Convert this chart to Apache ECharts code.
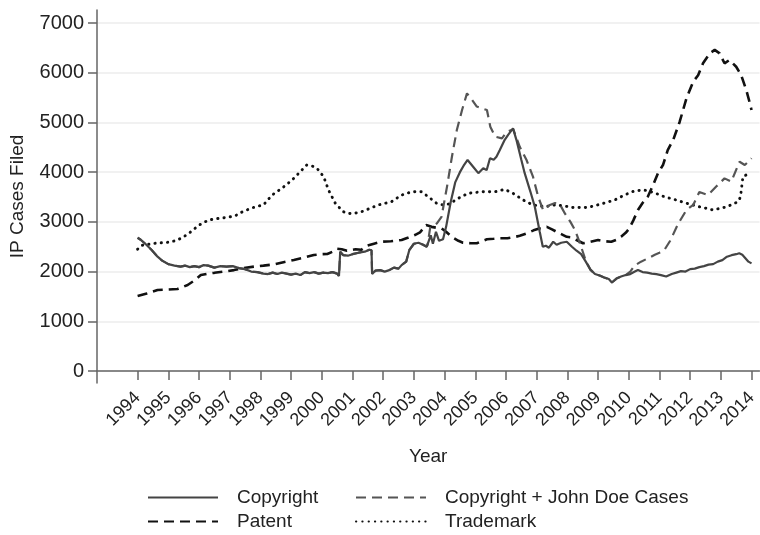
<!DOCTYPE html>
<html>
<head>
<meta charset="utf-8">
<script src="https://cdn.jsdelivr.net/npm/echarts@6/dist/echarts.min.js"></script>
<style>html,body{margin:0;padding:0;background:#fff}#c{width:760px;height:535px}</style>
</head>
<body>
<div id="c"></div>
<script>
const yearTicks = [1994,1995,1996,1997,1998,1999,2000,2001,2002,2003,2004,2005,2006,2007,2008,2009,2010,2011,2012,2013,2014];
const valueTicks = [0,1000,2000,3000,4000,5000,6000,7000];
const seriesNames = ['Copyright','Copyright + John Doe Cases','Patent','Trademark'];

const copyright = [
[1994.00,2680],[1994.10,2640],[1994.25,2560],[1994.45,2440],[1994.65,2300],[1994.80,2220],[1995.00,2150],[1995.20,2120],
[1995.40,2100],[1995.55,2120],[1995.70,2090],[1995.85,2110],[1996.00,2090],[1996.15,2130],[1996.30,2120],[1996.50,2080],
[1996.70,2110],[1996.90,2100],[1997.10,2110],[1997.30,2070],[1997.50,2050],[1997.70,2000],[1997.90,1990],[1998.10,1960],
[1998.25,1950],[1998.40,1980],[1998.55,1950],[1998.70,1980],[1998.85,1960],[1999.00,1940],[1999.15,1960],[1999.30,1930],
[1999.45,1990],[1999.60,1970],[1999.75,1990],[1999.90,1960],[2000.05,1980],[2000.20,1970],[2000.35,1990],[2000.50,1960],
[2000.56,1910],[2000.60,2400],[2000.70,2330],[2000.85,2320],[2001.00,2350],[2001.20,2380],[2001.40,2400],[2001.55,2440],
[2001.62,2430],[2001.64,1950],[2001.75,2020],[2001.90,2030],[2002.05,2000],[2002.20,2030],[2002.35,2080],[2002.50,2060],
[2002.60,2130],[2002.75,2200],[2002.85,2430],[2003.00,2560],[2003.15,2580],[2003.30,2540],[2003.42,2500],[2003.55,2730],
[2003.62,2560],[2003.72,2800],[2003.82,2620],[2003.95,2650],[2004.05,2900],[2004.20,3400],[2004.35,3800],[2004.50,4000],
[2004.62,4130],[2004.75,4245],[2004.93,4110],[2005.10,3980],[2005.26,4080],[2005.37,4040],[2005.48,4280],[2005.60,4250],
[2005.69,4310],[2005.80,4445],[2005.96,4650],[2006.07,4750],[2006.23,4880],[2006.34,4650],[2006.50,4250],[2006.61,3980],
[2006.80,3600],[2006.94,3305],[2007.10,2800],[2007.20,2500],[2007.30,2520],[2007.40,2480],[2007.54,2600],[2007.65,2540],
[2007.80,2580],[2007.98,2600],[2008.15,2500],[2008.30,2420],[2008.45,2350],[2008.60,2200],[2008.75,2040],[2008.90,1950],
[2009.05,1920],[2009.20,1880],[2009.35,1850],[2009.45,1780],[2009.60,1860],[2009.75,1900],[2009.90,1930],[2010.05,1950],
[2010.20,2000],[2010.30,2030],[2010.45,1990],[2010.60,1980],[2010.75,1960],[2010.90,1950],[2011.05,1930],[2011.22,1900],
[2011.40,1950],[2011.55,1980],[2011.70,2010],[2011.85,2000],[2012.00,2050],[2012.15,2060],[2012.30,2090],[2012.45,2110],
[2012.60,2140],[2012.75,2150],[2012.90,2200],[2013.05,2230],[2013.20,2300],[2013.35,2330],[2013.50,2350],[2013.60,2370],
[2013.70,2340],[2013.80,2270],[2013.90,2200],[2014.00,2165]
];

const johnDoeLate = [
[2003.45,2550],[2003.53,2880],[2003.75,2970],[2003.90,3100],[2004.08,3710],[2004.24,4310],[2004.40,4850],[2004.57,5250],
[2004.73,5585],[2004.90,5450],[2005.05,5320],[2005.20,5285],[2005.38,5250],[2005.49,4915],[2005.65,4715],[2005.87,4680],
[2006.03,4815],[2006.24,4860],[2006.45,4510],[2006.67,4245],[2006.88,3910],[2007.05,3505],[2007.21,3240],[2007.43,3340],
[2007.60,3380],[2007.75,3360],[2007.92,3170],[2008.10,3000],[2008.25,2835],[2008.41,2570],[2008.60,2220]
];
const johnDoeRecent = [
[2010.05,2000],[2010.19,2120],[2010.40,2200],[2010.62,2265],[2010.85,2340],[2011.00,2380],[2011.16,2435],[2011.35,2620],
[2011.60,2950],[2011.88,3240],[2012.10,3340],[2012.30,3600],[2012.58,3540],[2012.85,3710],[2013.12,3875],[2013.34,3810],
[2013.61,4210],[2013.78,4145],[2013.94,4240],[2014.00,4280]
];
// Copyright + John Doe equals Copyright where there are no John Doe cases
const copyrightDoe = copyright.filter(p => p[0] < 2003.45)
  .concat(johnDoeLate)
  .concat(copyright.filter(p => p[0] > 2008.65 && p[0] < 2010.0))
  .concat(johnDoeRecent);

const patent = [
[1994.00,1510],[1994.30,1560],[1994.65,1630],[1995.00,1640],[1995.30,1650],[1995.63,1730],[1995.85,1820],[1996.06,1930],
[1996.30,1960],[1996.50,1975],[1996.80,2000],[1997.14,2030],[1997.45,2070],[1997.79,2100],[1998.10,2120],[1998.44,2145],
[1998.75,2190],[1999.09,2235],[1999.40,2280],[1999.74,2335],[2000.00,2350],[2000.18,2355],[2000.35,2400],[2000.50,2460],
[2000.65,2450],[2000.82,2420],[2001.10,2450],[2001.29,2440],[2001.48,2520],[2001.70,2560],[2001.94,2600],[2002.25,2610],
[2002.60,2635],[2002.80,2680],[2003.03,2735],[2003.20,2790],[2003.40,2935],[2003.58,2900],[2003.75,2880],[2003.90,2870],
[2004.05,2800],[2004.23,2700],[2004.45,2620],[2004.60,2580],[2004.85,2570],[2005.05,2570],[2005.25,2620],[2005.38,2650],
[2005.60,2660],[2005.81,2670],[2006.05,2670],[2006.24,2690],[2006.45,2720],[2006.68,2770],[2006.90,2830],[2007.11,2870],
[2007.33,2900],[2007.50,2850],[2007.65,2800],[2007.85,2740],[2007.98,2700],[2008.13,2690],[2008.30,2635],[2008.51,2570],
[2008.75,2600],[2009.00,2635],[2009.20,2610],[2009.43,2600],[2009.60,2640],[2009.75,2700],[2009.90,2780],[2010.02,2870],
[2010.15,3030],[2010.30,3240],[2010.45,3380],[2010.62,3505],[2010.80,3750],[2010.95,3975],[2011.12,4150],[2011.27,4445],
[2011.45,4650],[2011.66,5015],[2011.88,5485],[2012.10,5820],[2012.26,5950],[2012.42,6190],[2012.64,6390],[2012.80,6460],
[2012.96,6390],[2013.12,6190],[2013.28,6255],[2013.50,6120],[2013.66,5955],[2013.83,5650],[2013.94,5400],[2014.00,5250]
];

const trademark = [
[1994.00,2450],[1994.15,2530],[1994.58,2570],[1995.00,2590],[1995.23,2620],[1995.45,2680],[1995.67,2770],[1995.85,2860],
[1996.00,2935],[1996.32,3040],[1996.64,3070],[1996.90,3090],[1997.18,3120],[1997.35,3185],[1997.60,3250],[1997.84,3305],
[1998.10,3340],[1998.38,3540],[1998.70,3675],[1999.03,3840],[1999.30,4010],[1999.51,4145],[1999.70,4120],[1999.84,4080],
[2000.06,3910],[2000.22,3640],[2000.44,3375],[2000.70,3205],[2000.86,3170],[2001.05,3170],[2001.30,3205],[2001.60,3280],
[2001.84,3340],[2002.27,3405],[2002.60,3540],[2002.93,3605],[2003.25,3605],[2003.47,3505],[2003.74,3375],[2003.95,3340],
[2004.15,3360],[2004.45,3475],[2004.77,3575],[2005.20,3605],[2005.64,3605],[2005.96,3655],[2006.23,3575],[2006.56,3440],
[2006.88,3340],[2007.26,3305],[2007.59,3340],[2007.92,3320],[2008.13,3290],[2008.67,3290],[2009.10,3360],[2009.54,3440],
[2009.86,3540],[2010.19,3625],[2010.51,3640],[2010.84,3585],[2011.16,3505],[2011.49,3450],[2011.88,3375],[2012.30,3305],
[2012.74,3240],[2013.18,3300],[2013.56,3405],[2013.64,3500],[2013.72,3910],[2013.83,3945],[2014.00,3975]
];

const FONT = "'Liberation Sans', Arial, Helvetica, sans-serif";
const chart = echarts.init(document.getElementById('c'), null, {renderer: 'canvas'});
function legendAt(name, left, top) {
  return {
    data: [name], left: left, top: top, padding: 0,
    orient: 'horizontal', itemWidth: 70, itemHeight: 14, selectedMode: false,
    itemStyle: {color: 'rgba(0,0,0,0)', borderWidth: 0, opacity: 0},
    textStyle: {fontFamily: FONT, fontSize: 19, color: '#222', padding: [0, 0, 0, 14]}
  };
}
chart.setOption({
  animation: false,
  backgroundColor: '#fff',
  grid: {left: 96, right: 0, top: 10, bottom: 152, containLabel: false},
  legend: [
    legendAt(seriesNames[0], 147, 488),
    legendAt(seriesNames[2], 147, 512),
    legendAt(seriesNames[1], 355, 488),
    legendAt(seriesNames[3], 355, 512)
  ],
  xAxis: {
    type: 'value', min: 1992.677, max: 2014.26,
    name: 'Year', nameLocation: 'middle', nameGap: 64,
    nameTextStyle: {fontFamily: FONT, fontSize: 19, color: '#222'},
    axisLine: {show: true, lineStyle: {color: '#666', width: 1.5}},
    axisTick: {show: true, length: 9, customValues: yearTicks, lineStyle: {color: '#666', width: 1.5}},
    axisLabel: {customValues: yearTicks, rotate: 45, margin: 12, fontFamily: FONT, fontSize: 18, color: '#222',
      formatter: v => String(Math.round(v))},
    splitLine: {show: false}
  },
  yAxis: {
    type: 'value', min: -241, max: 7262,
    name: 'IP Cases Filed', nameLocation: 'middle', nameGap: 70, nameRotate: 90,
    nameTextStyle: {fontFamily: FONT, fontSize: 19, color: '#222'},
    axisLine: {show: true, lineStyle: {color: '#666', width: 1.5}},
    axisTick: {show: true, length: 9, customValues: valueTicks, lineStyle: {color: '#666', width: 1.5}},
    axisLabel: {customValues: valueTicks, margin: 13, fontFamily: FONT, fontSize: 20, color: '#222',
      formatter: v => String(Math.round(v))},
    splitLine: {show: true, lineStyle: {color: '#ececec', width: 1.5}}
  },
  series: [
    {name: seriesNames[2], type: 'line', data: patent, symbol: 'none', showSymbol: false, z: 2,
      lineStyle: {color: '#111', width: 2.6, type: [10, 6]}, itemStyle: {color: '#111'}},
    {name: seriesNames[3], type: 'line', data: trademark, symbol: 'none', showSymbol: false, z: 2,
      lineStyle: {color: '#111', width: 2.9, type: [0.3, 6], cap: 'round'}, itemStyle: {color: '#111'}},
    {name: seriesNames[1], type: 'line', data: copyrightDoe, symbol: 'none', showSymbol: false, z: 3,
      lineStyle: {color: '#555', width: 2.2, type: [10, 6]}, itemStyle: {color: '#555'}},
    {name: seriesNames[0], type: 'line', data: copyright, symbol: 'none', showSymbol: false, z: 4,
      lineStyle: {color: '#444', width: 2.2, type: 'solid'}, itemStyle: {color: '#444'}}
  ]
});
</script>
</body>
</html>
